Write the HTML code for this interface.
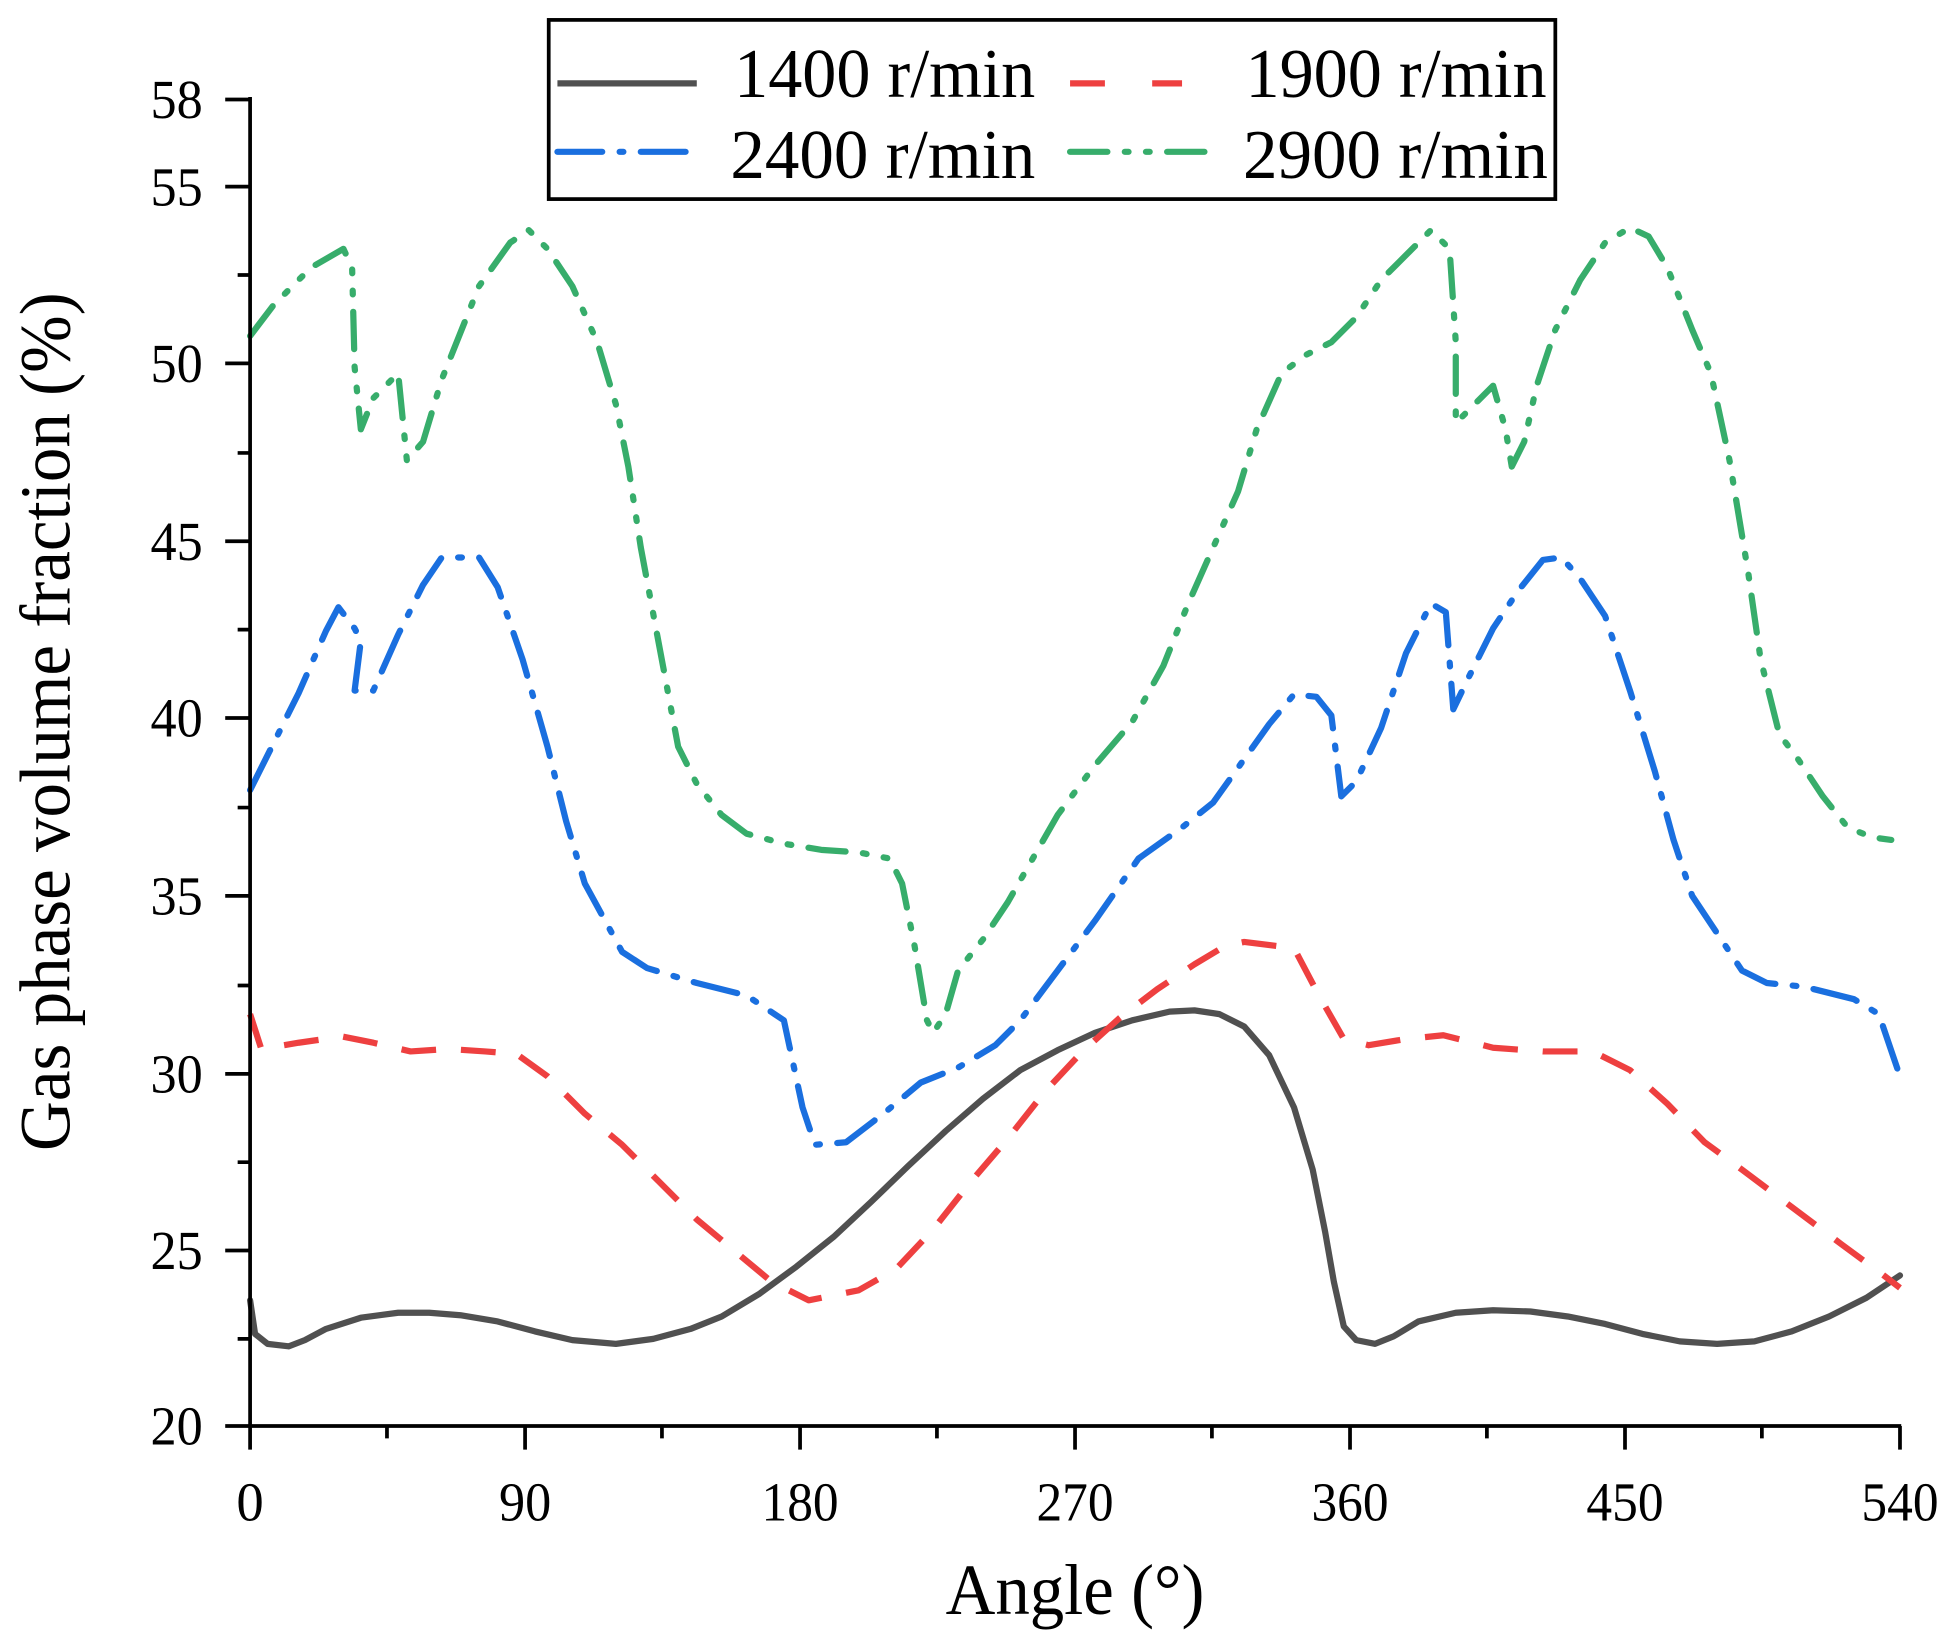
<!DOCTYPE html>
<html><head><meta charset="utf-8"><style>
html,body{margin:0;padding:0;background:#fff;}
svg{display:block;}
text{font-family:"Liberation Serif",serif;fill:#000;}
</style></head><body>
<svg width="1951" height="1641" viewBox="0 0 1568 1318.8" preserveAspectRatio="none" xmlns="http://www.w3.org/2000/svg">
<g fill="none" stroke-linecap="round" stroke-linejoin="round" stroke-width="5">
<path stroke="#505050" d="M201,1045 L205,1072 L215,1080 L232,1082 L245,1077 L262,1068 L290,1059 L320,1055 L345,1055 L370,1057 L400,1062 L430,1070 L460,1077 L495,1080 L525,1076 L555,1068 L580,1058 L610,1040 L640,1018 L670,994 L700,966 L730,937 L760,909 L790,883 L820,860 L850,844 L880,830 L910,820 L940,813 L960,812 L980,815 L1000,825 L1020,848 L1040,890 L1055,940 L1065,990 L1072,1030 L1080,1066 L1090,1077 L1105,1080 L1120,1074 L1140,1062 L1170,1055 L1200,1053 L1230,1054 L1260,1058 L1290,1064 L1320,1072 L1350,1078 L1380,1080 L1410,1078 L1440,1070 L1470,1058 L1500,1043 L1527,1025"/>
<path stroke="#ee4040" stroke-dasharray="28 20" stroke-linecap="butt" d="M201,815 L210,843 L240,838 L275,833 L300,838 L330,845 L360,843 L390,845 L415,847 L440,865 L470,895 L500,920 L530,950 L560,980 L590,1005 L620,1030 L650,1045 L690,1037 L720,1020 L750,988 L780,950 L810,915 L840,877 L870,845 L900,818 L930,795 L960,775 L985,760 L1000,757 L1040,762 L1060,800 L1080,835 L1100,840 L1130,835 L1160,832 L1200,842 L1240,845 L1280,845 L1310,860 L1340,887 L1370,918 L1400,940 L1440,970 L1480,1000 L1510,1022 L1527,1035"/>
<path stroke="#1a6fdf" stroke-dasharray="36 14 3 14" d="M201,635 L220,597 L240,557 L262,507 L272,488 L285,505 L290,515 L285,555 L300,555 L320,510 L340,470 L355,448 L385,448 L400,472 L420,530 L440,600 L455,660 L470,710 L500,765 L520,778 L560,790 L600,800 L630,820 L645,890 L655,920 L680,918 L710,895 L740,870 L770,858 L800,840 L820,820 L850,780 L880,740 L915,690 L950,665 L975,645 L1000,610 L1020,582 L1040,558 L1058,560 L1070,575 L1078,640 L1090,628 L1110,585 L1130,525 L1150,485 L1162,492 L1168,570 L1180,545 L1200,505 L1220,475 L1240,450 L1255,448 L1270,465 L1290,495 L1310,555 L1330,620 L1345,675 L1360,720 L1380,750 L1400,780 L1420,790 L1450,793 L1490,803 L1510,815 L1527,865"/>
<path stroke="#37ad6b" stroke-dasharray="30 14 3 14 3 14" d="M201,270 L220,245 L250,215 L276,200 L283,215 L285,295 L290,345 L300,320 L320,300 L327,370 L340,355 L355,305 L385,230 L410,195 L425,185 L440,200 L460,230 L480,275 L495,325 L505,375 L515,440 L530,520 L545,600 L560,630 L580,655 L600,670 L630,678 L660,683 L690,685 L715,690 L725,710 L735,760 L745,820 L750,830 L760,815 L770,780 L790,755 L810,725 L830,690 L850,655 L880,615 L910,580 L935,535 L955,485 L975,440 L995,395 L1010,345 L1030,300 L1050,285 L1070,275 L1090,255 L1110,225 L1130,205 L1150,185 L1165,200 L1170,275 L1170,340 L1185,325 L1200,310 L1210,345 L1215,375 L1225,355 L1235,310 L1250,265 L1270,225 L1290,195 L1310,183 L1325,190 L1340,215 L1360,265 L1375,300 L1390,370 L1405,460 L1415,530 L1430,590 L1445,610 L1465,640 L1485,665 L1505,673 L1520,675"/>
</g>
<g stroke="#000" stroke-width="3" fill="none">
<line x1="201" y1="78" x2="201" y2="1147"/>
<line x1="181" y1="1146" x2="1528" y2="1146"/>
<path d="M181,80H201 M181,150H201 M181,292H201 M181,435H201 M181,577H201 M181,720H201 M181,863H201 M181,1005H201
M191,221H201 M191,364H201 M191,506H201 M191,649H201 M191,792H201 M191,934H201 M191,1076H201
M201,1146V1165 M422,1146V1165 M643,1146V1165 M864,1146V1165 M1085,1146V1165 M1306,1146V1165 M1527,1146V1165
M311,1146V1156 M532,1146V1156 M753,1146V1156 M974,1146V1156 M1195,1146V1156 M1416,1146V1156"/>
</g>
<g font-size="44" text-anchor="end" lengthAdjust="spacingAndGlyphs">
<text x="163" y="95" textLength="42" lengthAdjust="spacingAndGlyphs">58</text><text x="163" y="165" textLength="42" lengthAdjust="spacingAndGlyphs">55</text><text x="163" y="307" textLength="42" lengthAdjust="spacingAndGlyphs">50</text><text x="163" y="450" textLength="42" lengthAdjust="spacingAndGlyphs">45</text>
<text x="163" y="592" textLength="42" lengthAdjust="spacingAndGlyphs">40</text><text x="163" y="735" textLength="42" lengthAdjust="spacingAndGlyphs">35</text><text x="163" y="878" textLength="42" lengthAdjust="spacingAndGlyphs">30</text><text x="163" y="1020" textLength="42" lengthAdjust="spacingAndGlyphs">25</text><text x="163" y="1161" textLength="42" lengthAdjust="spacingAndGlyphs">20</text>
</g>
<g font-size="44" text-anchor="middle">
<text x="201" y="1222">0</text>
<text x="422" y="1222" textLength="42" lengthAdjust="spacingAndGlyphs">90</text>
<text x="643" y="1222" textLength="62" lengthAdjust="spacingAndGlyphs">180</text>
<text x="864" y="1222" textLength="62" lengthAdjust="spacingAndGlyphs">270</text>
<text x="1085" y="1222" textLength="62" lengthAdjust="spacingAndGlyphs">360</text>
<text x="1306" y="1222" textLength="62" lengthAdjust="spacingAndGlyphs">450</text>
<text x="1527" y="1222" textLength="62" lengthAdjust="spacingAndGlyphs">540</text>
</g>
<text x="864" y="1297" font-size="58" text-anchor="middle" textLength="208" lengthAdjust="spacingAndGlyphs">Angle (°)</text>
<text transform="translate(56,580) rotate(-90)" font-size="58" text-anchor="middle" textLength="690" lengthAdjust="spacingAndGlyphs">Gas phase volume fraction (%)</text>
<rect x="441" y="16" width="809" height="144" fill="#fff" stroke="#000" stroke-width="3"/>
<g stroke-width="5" fill="none">
<line x1="448" y1="67" x2="560" y2="67" stroke="#505050"/>
<line x1="860" y1="67" x2="950" y2="67" stroke="#ee4040" stroke-dasharray="28 38"/>
<line x1="448" y1="122" x2="560" y2="122" stroke="#1a6fdf" stroke-dasharray="36 14 3 14" stroke-linecap="round"/>
<line x1="860" y1="122" x2="972" y2="122" stroke="#37ad6b" stroke-dasharray="30 14 3 14 3 14" stroke-linecap="round"/>
</g>
<g font-size="56">
<text x="590" y="78" textLength="242" lengthAdjust="spacingAndGlyphs">1400 r/min</text><text x="1001" y="78" textLength="242" lengthAdjust="spacingAndGlyphs">1900 r/min</text>
<text x="587" y="143" textLength="245" lengthAdjust="spacingAndGlyphs">2400 r/min</text><text x="999" y="143" textLength="245" lengthAdjust="spacingAndGlyphs">2900 r/min</text>
</g>
</svg>
</body></html>
